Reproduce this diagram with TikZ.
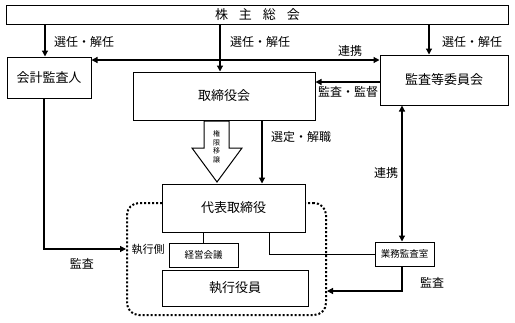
\documentclass[tikz,border=0pt]{standalone}
\usepackage{fontspec}
\setmainfont{Noto Sans CJK JP}
\usetikzlibrary{arrows.meta,positioning}
\tikzset{
  box/.style={draw, line width=1pt, fill=white, inner sep=0pt, font=\fontsize{13}{15}\selectfont},
  smallbox/.style={draw, line width=1pt, fill=white, inner sep=0pt, font=\fontsize{9.5}{11}\selectfont},
  arr/.style={line width=1.2pt, -{Triangle[length=6pt,width=6pt]}},
  darr/.style={line width=1.2pt, {Triangle[length=6pt,width=6pt]}-{Triangle[length=6pt,width=6pt]}},
  plain/.style={line width=1pt},
  lbl/.style={inner sep=0pt, font=\fontsize{12}{14}\selectfont},
}
\begin{document}
\begin{tikzpicture}[x=1pt,y=-1pt]
\useasboundingbox (0,0) rectangle (515,322);
% dotted execution area
\node[draw, dotted, line width=2pt, rounded corners=12pt, minimum width=199pt, minimum height=112pt] (exec) at (226.5,259) {};
% boxes
\node[box, minimum width=502pt, minimum height=19pt] (top) at (257.5,15) {株\hspace{11pt}主\hspace{11pt}総\hspace{11pt}会};
\node[box, minimum width=84pt, minimum height=41pt] (kaikei) at (49,77.5) {会計監査人};
\node[box, minimum width=182pt, minimum height=48pt] (tori) at (224,96) {取締役会};
\node[box, minimum width=128pt, minimum height=50pt] (kansa) at (444,80) {監査等委員会};
\node[box, minimum width=143pt, minimum height=48pt] (daihyo) at (233.5,208) {代表取締役};
\node[smallbox, minimum width=69pt, minimum height=24pt] (keiei) at (203.5,255) {経営会議};
\node[box, minimum width=146pt, minimum height=36pt] (shikko) at (235,288) {執行役員};
\node[smallbox, minimum width=59pt, minimum height=24pt] (gyomu) at (404.5,254) {業務監査室};
% arrows from top
\draw[arr] (top.south -| 45,0) -- (kaikei.north -| 45,0);
\draw[arr] (top.south -| 220,0) -- (tori.north -| 220,0);
\draw[arr] (top.south -| 429,0) -- (kansa.north -| 429,0);
\node[lbl, anchor=west] (l1) at (54,42) {選任・解任};
\node[lbl, anchor=west] (l2) at (230,42) {選任・解任};
\node[lbl, anchor=west] (l3) at (442,42) {選任・解任};
% renkei horizontal
\draw[darr] (kaikei.east |- 0,60) -- (kansa.west |- 0,60);
\node[lbl] (l4) at (350,51) {連携};
% kansa -> tori
\draw[arr] (kansa.west |- 0,82) -- (tori.east |- 0,82);
\node[lbl] (l5) at (348,92) {監査・監督};
% kaikei audit
\draw[arr] (kaikei.south -| 44,0) -- (44,249) -- (exec.west |- 0,249);
\node[lbl] (l6) at (82,264) {監査};
% hollow arrow
\draw[line width=1pt, fill=white] (204,121) -- (229,121) -- (229,148) -- (242,148) -- (217,182) -- (192,148) -- (204,148) -- cycle;
\node[inner sep=0pt, font=\fontsize{7}{8.5}\selectfont, align=center] (l7) at (216.5,147) {権\\限\\移\\譲};
% sentei
\draw[arr] (tori.south -| 262,0) -- (daihyo.north -| 262,0);
\node[lbl, anchor=west] (l8) at (271,137) {選定・解職};
% daihyo -> keiei
\draw[plain] (daihyo.south -| keiei.north) -- (keiei.north);
% daihyo -> gyomu
\draw[plain] (daihyo.south -| 269,0) -- (269,254) -- (gyomu.west);
% shikko-gawa
\node[inner sep=0pt, anchor=west, font=\fontsize{11}{13}\selectfont] (l9) at (131.5,249) {執行側};
% kansa <-> gyomu
\draw[darr] (kansa.south -| 402,0) -- (gyomu.north -| 402,0);
\node[lbl] (l10) at (386,173) {連携};
% gyomu audit
\draw[arr] (gyomu.south -| 402,0) -- (402,291) -- (exec.east |- 0,291);
\node[lbl] (l11) at (432,283) {監査};
\end{tikzpicture}
\end{document}
